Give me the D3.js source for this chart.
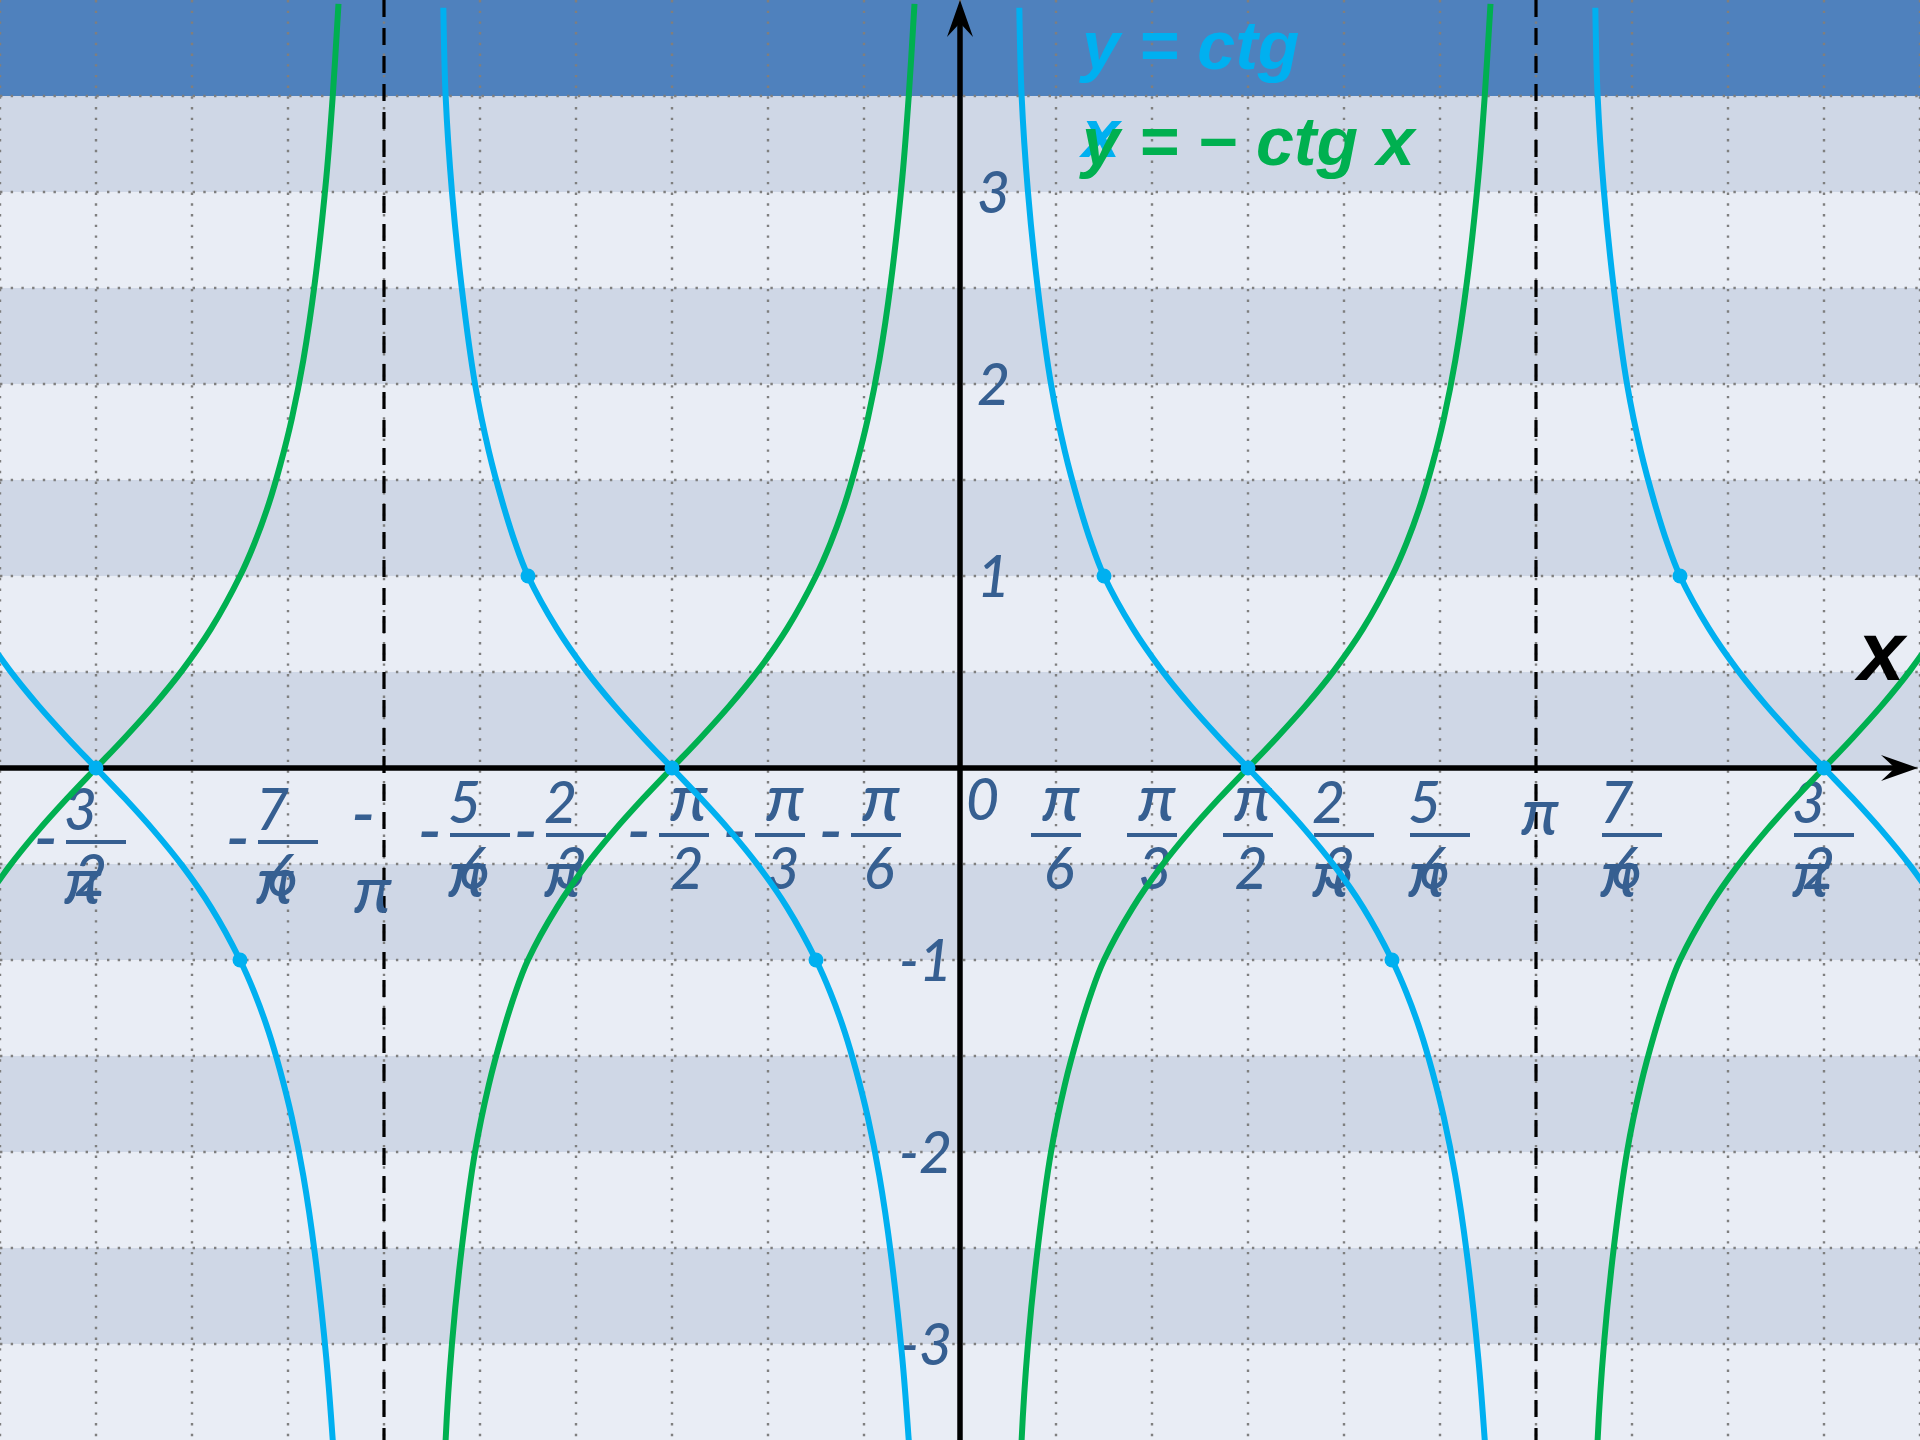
<!DOCTYPE html>
<html>
<head>
<meta charset="utf-8">
<title>y = ctg x, y = − ctg x</title>
<script src="https://cdn.jsdelivr.net/npm/d3@7/dist/d3.min.js"></script>
<style>
  html, body { margin: 0; padding: 0; background: #ffffff; }
  svg { display: block; }
</style>
</head>
<body>
<svg id="chart" width="1920" height="1440"></svg>
<script>
// All x values are written in multiples of pi.
const xTickValues = [-3/2, -7/6, -1, -5/6, -2/3, -1/2, -1/3, -1/6, 0, 1/6, 1/3, 1/2, 2/3, 5/6, 1, 7/6, 3/2];
const xTickLabels = ['-3π/2', '-7π/6', '-π', '-5π/6', '-2π/3', '-π/2', '-π/3', '-π/6', '0',
                     'π/6', 'π/3', 'π/2', '2π/3', '5π/6', 'π', '7π/6', '3π/2'];
const yTickValues = [-3, -2, -1, 1, 2, 3];
const yTickLabels = ['-3', '-2', '-1', '1', '2', '3'];

// One branch of each curve as read off the picture. x is measured from the
// asymptote on the left side of the branch, so every branch repeats it.
const ctgBranchX = [0.103, 0.107, 0.118, 0.135, 0.158, 0.182, 0.206, 0.228, 0.25, 0.3, 0.35, 0.4, 0.45, 0.5,
                    0.55, 0.6, 0.65, 0.7, 0.75, 0.775, 0.8, 0.82, 0.84, 0.86, 0.88, 0.9, 0.911, 0.918];
const ctgBranchY = [3.96, 3.5, 3.0, 2.5, 2.0, 1.65, 1.38, 1.17, 1.0, 0.727, 0.51, 0.325, 0.158, 0,
                    -0.158, -0.325, -0.51, -0.727, -1.0, -1.17, -1.376, -1.58, -1.82, -2.125, -2.53, -3.08, -3.5, -3.81];
const negCtgBranchX = [0.103, 0.107, 0.118, 0.135, 0.158, 0.182, 0.206, 0.228, 0.25, 0.3, 0.35, 0.4, 0.45, 0.5,
                       0.55, 0.6, 0.65, 0.7, 0.75, 0.775, 0.8, 0.82, 0.84, 0.86, 0.88, 0.9, 0.911, 0.921];
const negCtgBranchY = [-3.96, -3.5, -3.0, -2.5, -2.0, -1.65, -1.38, -1.17, -1.0, -0.727, -0.51, -0.325, -0.158, 0,
                       0.158, 0.325, 0.51, 0.727, 1.0, 1.17, 1.376, 1.58, 1.82, 2.125, 2.53, 3.08, 3.5, 3.98];
const branchStarts = [-2, -1, 0, 1];

// The marked points on y = ctg x.
const markerX = [-3/2, -5/4, -3/4, -1/2, -1/4, 1/4, 1/2, 3/4, 5/4, 3/2];
const markerY = [0, -1, 1, 0, -1, 1, 0, -1, 1, 0];

const asymptoteX = [-1, 1];

// The first legend entry wraps its last word onto a second line.
const legendCtg = ['y = ctg', 'x'];
const legendNegCtg = ['y = − ctg x'];

const width = 1920,
  height = 1440;

const ctgColor = '#00b0f0',
  negCtgColor = '#00b050',
  tickColor = '#365f91',
  tickFont = 'Lato, "Noto Sans", sans-serif',
  legendFont = '"Liberation Sans", Arial, sans-serif';

const x = d3.scaleLinear().domain([-5/3, 5/3]).range([0, width]);
const y = d3.scaleLinear().domain([-3.5, 4]).range([height, 0]);

const svg = d3.select('#chart');

// Horizontal stripes every half unit, the top one in a strong blue.
const bandBottoms = d3.range(-3.5, 4, 0.5);
svg.append('g')
  .selectAll('rect')
  .data(bandBottoms)
  .join('rect')
  .attr('x', 0)
  .attr('width', width)
  .attr('y', d => y(d + 0.5))
  .attr('height', d => y(d) - y(d + 0.5))
  .attr('fill', (d, i) => d + 0.5 >= 4 ? '#4f81bd' : (i % 2 === 0 ? '#e9edf5' : '#cfd7e6'));

// Dotted grid: pi/6 apart across, half a unit apart up and down.
let grid = svg.append('g')
  .attr('stroke', '#7f7f7f')
  .attr('stroke-width', 2.4)
  .attr('stroke-dasharray', '2.4,8.3');

grid.selectAll('.gx')
  .data(d3.range(-10, 11).map(k => k / 6))
  .join('line')
  .attr('class', 'gx')
  .attr('x1', d => x(d)).attr('x2', d => x(d))
  .attr('y1', 0).attr('y2', height);

grid.selectAll('.gy')
  .data(d3.range(-3, 4, 0.5))
  .join('line')
  .attr('class', 'gy')
  .attr('x1', 0).attr('x2', width)
  .attr('y1', d => y(d)).attr('y2', d => y(d));

// Dashed asymptotes at -pi and pi.
svg.append('g')
  .selectAll('line')
  .data(asymptoteX)
  .join('line')
  .attr('x1', d => x(d)).attr('x2', d => x(d))
  .attr('y1', 0).attr('y2', height)
  .attr('stroke', '#000')
  .attr('stroke-width', 3.2)
  .attr('stroke-dasharray', '17,11');

// Tick labels on the x axis. They are fractions, and a two character
// numerator such as "5π" loses its pi onto the denominator line.
let xLabels = svg.append('g')
  .attr('fill', tickColor)
  .attr('font-family', tickFont)
  .attr('font-style', 'italic')
  .attr('font-weight', 500)
  .attr('font-size', 57);

function addText (g, str, tx, ty, anchor) {
  let size = null;
  if (str === 'π') size = 66;
  if (str === '-') size = 70;

  g.append('text')
    .attr('x', tx)
    .attr('y', ty)
    .attr('text-anchor', anchor)
    .attr('font-size', size)
    .text(str);
}

xTickValues.forEach((v, i) => {
  let label = xTickLabels[i],
    sign = label.startsWith('-'),
    body = sign ? label.slice(1) : label,
    parts = body.split('/'),
    // the two labels at the far left sit a little lower
    dy = v < -1 ? 7 : 0,
    g = xLabels.append('g').attr('transform', `translate(${x(v)},${y(0) + dy})`);

  if (parts.length === 1) {
    if (body === '0') {
      addText(g, '0', 6, 52, 'start');
    } else if (sign) {
      addText(g, '-', -33, 70, 'start');
      addText(g, body, -30, 145, 'start');
    } else {
      addText(g, body, 4, 67, 'middle');
    }
    return;
  }

  let num = parts[0],
    den = parts[1],
    wide = num.length > 1,
    barW = wide ? 60 : 50,
    cx = sign && !wide ? 12 : 0,
    left = cx - barW / 2;

  g.append('line')
    .attr('x1', left).attr('x2', left + barW)
    .attr('y1', 67).attr('y2', 67)
    .attr('stroke', tickColor)
    .attr('stroke-width', 3.8);

  if (sign) {
    addText(g, '-', left - 8, 87, 'end');
  }

  if (wide) {
    addText(g, num[0], left - 2, 55, 'start');
    addText(g, den, left + 8, 121, 'start');
    addText(g, num.slice(1), left - 2, 129, 'start');
  } else {
    addText(g, num, cx + 5, 53, 'middle');
    addText(g, den, cx + 3, 121, 'middle');
  }
});

// Tick labels on the y axis.
svg.append('g')
  .attr('fill', tickColor)
  .attr('font-family', tickFont)
  .attr('font-style', 'italic')
  .attr('font-weight', 500)
  .attr('font-size', 57)
  .selectAll('text')
  .data(yTickValues)
  .join('text')
  .attr('x', d => d > 0 ? x(0) + 17 : x(0) - 8)
  .attr('y', d => y(d) + 21)
  .attr('text-anchor', d => d > 0 ? 'start' : 'end')
  .text((d, i) => yTickLabels[i]);

// Axes with notched arrow heads.
let axes = svg.append('g');
const arrow = 'M0,0 L-37,-13 L-23,0 L-37,13 Z';

axes.append('line')
  .attr('x1', x(-5/3)).attr('x2', x(5/3) - 20)
  .attr('y1', y(0)).attr('y2', y(0))
  .attr('stroke', '#000').attr('stroke-width', 5.5);
axes.append('path')
  .attr('d', arrow)
  .attr('transform', `translate(${x(5/3) - 2},${y(0)})`);

axes.append('line')
  .attr('x1', x(0)).attr('x2', x(0))
  .attr('y1', y(-3.5)).attr('y2', y(4) + 20)
  .attr('stroke', '#000').attr('stroke-width', 5.5);
axes.append('path')
  .attr('d', arrow)
  .attr('transform', `translate(${x(0)},${y(4)}) rotate(-90)`);

// The curves, one path per branch.
const line = d3.line()
  .x(d => x(d[0]))
  .y(d => y(d[1]))
  .curve(d3.curveCatmullRom.alpha(0.5));

function drawBranches (bx, by, color) {
  svg.append('g')
    .selectAll('path')
    .data(branchStarts.map(k => bx.map((v, i) => [k + v, by[i]])))
    .join('path')
    .attr('d', line)
    .attr('fill', 'none')
    .attr('stroke', color)
    .attr('stroke-width', 6);
}

drawBranches(negCtgBranchX, negCtgBranchY, negCtgColor);
drawBranches(ctgBranchX, ctgBranchY, ctgColor);

svg.append('g')
  .selectAll('circle')
  .data(markerX)
  .join('circle')
  .attr('cx', d => x(d))
  .attr('cy', (d, i) => y(markerY[i]))
  .attr('r', 7.5)
  .attr('fill', ctgColor);

// Legend text in the top band.
let legend = svg.append('g')
  .attr('font-family', legendFont)
  .attr('font-weight', 'bold')
  .attr('font-style', 'italic')
  .attr('font-size', 68);

legend.append('text')
  .attr('fill', ctgColor)
  .selectAll('tspan')
  .data(legendCtg)
  .join('tspan')
  .attr('x', 1082)
  .attr('y', (d, i) => 69 + i * 88)
  .text(d => d);

legend.append('text')
  .attr('fill', negCtgColor)
  .attr('x', 1082)
  .attr('y', 165)
  .text(legendNegCtg[0]);

// Axis name.
svg.append('text')
  .attr('x', 1858)
  .attr('y', 680)
  .attr('font-family', legendFont)
  .attr('font-weight', 'bold')
  .attr('font-style', 'italic')
  .attr('font-size', 84)
  .text('x');
</script>
</body>
</html>
